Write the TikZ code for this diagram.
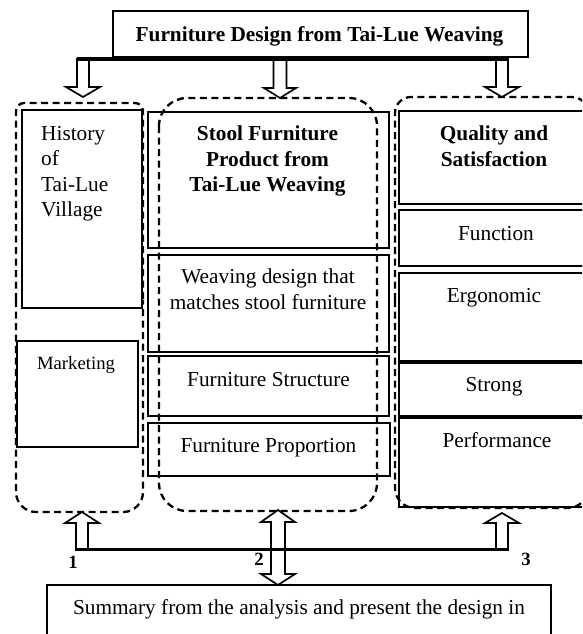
\documentclass[tikz,border=0pt]{standalone}
\usepackage{fontspec}
\setmainfont{Liberation Serif}
\begin{document}
\begin{tikzpicture}[x=1pt,y=-1pt,
  sbox/.style={draw, line width=1.7pt, inner sep=0pt, anchor=north west},
  dbox/.style={draw, line width=2.3pt, dash pattern=on 7pt off 4.5pt},
  hol/.style={draw, fill=white, line width=1.7pt, line join=miter},
  txt/.style={font=\fontsize{21.3}{25.5}\selectfont, inner sep=0pt, anchor=base, align=center},
  btxt/.style={font=\fontsize{21.3}{25.5}\selectfont\bfseries, inner sep=0pt, anchor=base, align=center},
  stxt/.style={font=\fontsize{18.7}{22}\selectfont, inner sep=0pt, anchor=base},
  lbl/.style={font=\fontsize{18.7}{22}\selectfont\bfseries, inner sep=0pt},
  bar/.style={line width=3.8pt}]
\useasboundingbox (0,0) rectangle (582,634);
\clip (0,0) rectangle (582,634);

% title
\node[sbox, minimum width=415pt, minimum height=46pt] (title) at (112,10) {};
\node[btxt] (titletxt) at (319.5,41.5) {Furniture Design from Tai-Lue Weaving};

% left column (multi-line nodes: base = last line)
\node[sbox, minimum width=120pt, minimum height=198pt] (hist) at (21,109) {};
\node[txt, anchor=base west, align=left] (histtxt) at (41,216.5) {History\\of\\Tai-Lue\\Village};
\node[sbox, minimum width=121pt, minimum height=106pt] (mkt) at (16,340) {};
\node[stxt] (mkttxt) at (76,369) {Marketing};

% middle column
\node[sbox, minimum width=241pt, minimum height=136pt] (stool) at (147,111) {};
\node[btxt] (stooltxt) at (267.5,191.5) {Stool Furniture\\Product from\\Tai-Lue Weaving};
\node[sbox, minimum width=241pt, minimum height=97pt] (weave) at (147,254) {};
\node[txt] (weavetxt) at (268,309) {Weaving design that\\matches stool furniture};
\node[sbox, minimum width=241pt, minimum height=60pt] (struct) at (147,355) {};
\node[txt] (structtxt) at (268.5,386) {Furniture Structure};
\node[sbox, minimum width=242pt, minimum height=53pt] (prop) at (147,422) {};
\node[txt] (proptxt) at (268.5,452) {Furniture Proportion};

% right column
\node[sbox, minimum width=194pt, minimum height=93pt] (qual) at (398,110) {};
\node[btxt] (qualtxt) at (494,166) {Quality and\\Satisfaction};
\node[sbox, minimum width=194pt, minimum height=56pt] (func) at (398,209) {};
\node[txt] (functxt) at (496,240) {Function};
\node[sbox, minimum width=194pt, minimum height=88pt] (ergo) at (398,272) {};
\node[txt] (ergotxt) at (494,302) {Ergonomic};
\node[sbox, minimum width=194pt, minimum height=53pt] (strong) at (398,362) {};
\node[txt] (strongtxt) at (494,391) {Strong};
\node[sbox, minimum width=194pt, minimum height=89pt] (perf) at (398,417) {};
\node[txt] (perftxt) at (497,447) {Performance};

% dashed groups
\draw[dbox, rounded corners=8pt] (16,300) -- (16,103) -- (143,103) -- (143,300);
\draw[dbox, rounded corners=20pt] (16,300) -- (16,512) -- (143,512) -- (143,300);
\draw[dbox, rounded corners=28pt] (159,98) rectangle (377,511);
\draw[dbox, rounded corners=16pt] (395,300) -- (395,97) -- (588,97) -- (588,300);
\draw[dbox, rounded corners=20pt] (395,300) -- (395,508) -- (588,508) -- (588,300);

% top arrows
\coordinate (ta) at (83,97);
\coordinate (tb) at (280,98);
\coordinate (tc) at (502,97);
\draw[hol] (ta) -- ++(-17,-10) -- ++(11,0) -- ++(0,-28) -- ++(12,0) -- ++(0,28) -- ++(11,0) -- cycle;
\draw[hol] (tb) -- ++(-16,-10) -- ++(9.5,0) -- ++(0,-29) -- ++(13,0) -- ++(0,29) -- ++(9.5,0) -- cycle;
\draw[hol] (tc) -- ++(-17,-10) -- ++(11,0) -- ++(0,-28) -- ++(12,0) -- ++(0,28) -- ++(11,0) -- cycle;
\coordinate (barL) at (77,59);
\coordinate (barR) at (508,59);
\draw[bar] (barL) -- (barR);

% bottom arrows
\coordinate (ua) at (82,512);
\coordinate (ub) at (278,510);
\coordinate (uc) at (502,513);
\draw[hol] (ua) -- ++(-17,11) -- ++(11,0) -- ++(0,27) -- ++(12,0) -- ++(0,-27) -- ++(11,0) -- cycle;
\draw[hol] (ub) -- ++(-17,12) -- ++(10,0) -- ++(0,52) -- ++(-10,0) -- ++(17,11) -- ++(17,-11) -- ++(-10,0) -- ++(0,-52) -- ++(10,0) -- cycle;
\draw[hol] (uc) -- ++(-17,10) -- ++(11,0) -- ++(0,27) -- ++(12,0) -- ++(0,-27) -- ++(11,0) -- cycle;
\coordinate (bbL) at (76,549.5);
\coordinate (bbR) at (508,549.5);
\draw[bar] (bbL) -- (bbR);

\node[lbl] (n1) at (73,562) {1};
\node[lbl] (n2) at (259,559) {2};
\node[lbl] (n3) at (526,559) {3};

% summary
\node[sbox, minimum width=504pt, minimum height=70pt] (summ) at (46,584) {};
\node[txt] (summtxt) at (299,614) {Summary from the analysis and present the design in};
\end{tikzpicture}
\end{document}
